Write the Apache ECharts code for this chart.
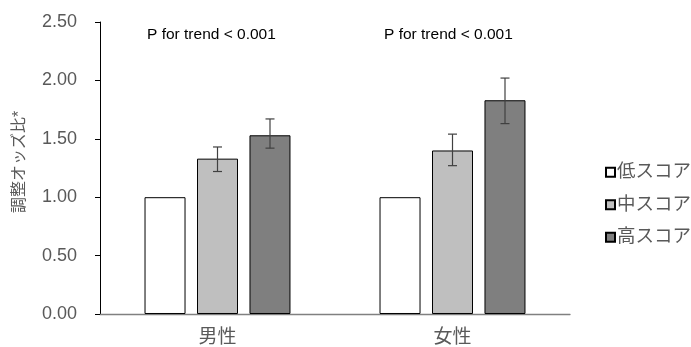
<!DOCTYPE html>
<html><head><meta charset="utf-8">
<script src="https://cdn.jsdelivr.net/npm/echarts@6/dist/echarts.min.js"></script>
<style>html,body{margin:0;padding:0;background:#fff}#c{width:691px;height:347px}</style>
</head><body><div id="c"></div>
<script>
const categories = ['男性', '女性'];
const seriesNames = ['低スコア', '中スコア', '高スコア'];
const lowScore = [1.00, 1.00];
const midScore = [1.33, 1.40];
const highScore = [1.53, 1.83];
const midLower = [1.22, 1.27];
const midUpper = [1.43, 1.54];
const highLower = [1.42, 1.63];
const highUpper = [1.67, 2.02];
const yTicks = [0, 0.5, 1, 1.5, 2, 2.5];
const pText = ['P for trend < 0.001', 'P for trend < 0.001'];

const colors = ['#ffffff', '#bfbfbf', '#7f7f7f'];
const chart = echarts.init(document.getElementById('c'));
const FONT = 'Liberation Sans, Arial, Noto Sans CJK JP, sans-serif';

function errSeries(lower, upper, offset) {
  return {
    type: 'custom',
    silent: true,
    z: 10,
    data: categories.map((c, i) => [i, lower[i], upper[i]]),
    renderItem: function (params, api) {
      const i = api.value(0);
      const lo = api.coord([i, api.value(1)]);
      const hi = api.coord([i, api.value(2)]);
      const x = lo[0] + offset;
      const w = 4.5;
      const st = { stroke: '#404040', lineWidth: 1.2 };
      return { type: 'group', children: [
        { type: 'line', shape: { x1: x, y1: lo[1], x2: x, y2: hi[1] }, style: st },
        { type: 'line', shape: { x1: x - w, y1: lo[1], x2: x + w, y2: lo[1] }, style: st },
        { type: 'line', shape: { x1: x - w, y1: hi[1], x2: x + w, y2: hi[1] }, style: st }
      ]};
    }
  };
}

const barData = [lowScore, midScore, highScore];
const series = barData.map((d, k) => ({
  name: seriesNames[k],
  type: 'bar',
  barWidth: 41,
  barGap: '28%',
  data: d,
  itemStyle: { color: colors[k], borderColor: '#000', borderWidth: 1 }
}));
series.push(errSeries(midLower, midUpper, 0));
series.push(errSeries(highLower, highUpper, 52.5));

chart.setOption({
  animation: false,
  textStyle: { fontFamily: FONT },
  grid: { left: 100, right: 121, top: 22, bottom: 33 },
  legend: {
    orient: 'vertical', left: 600, top: 158,
    itemWidth: 9, itemHeight: 9, itemGap: 14,
    icon: 'rect',
    textStyle: { fontSize: 18.5, color: '#595959', fontFamily: FONT, padding: [0, 0, 0, -3] },
    data: seriesNames
  },
  xAxis: {
    type: 'category', data: categories,
    axisLine: { lineStyle: { color: '#808080', width: 1.3 } },
    axisTick: { show: false },
    axisLabel: { fontSize: 19, color: '#595959', margin: 14 }
  },
  yAxis: {
    type: 'value', min: 0, max: 2.5, interval: 0.5,
    axisLine: { show: true, lineStyle: { color: '#000', width: 1 } },
    axisTick: { show: true, length: 5, lineStyle: { color: '#000' } },
    splitLine: { show: false },
    axisLabel: { fontSize: 18, color: '#595959', margin: 23, formatter: v => v.toFixed(2) },
    name: '調整オッズ比*', nameLocation: 'middle', nameGap: 72, nameRotate: 90,
    nameTextStyle: { fontSize: 16, color: '#595959', padding: [0, 0, 0, 12] }
  },
  series: series,
  graphic: pText.map((t, i) => ({
    type: 'text', left: i === 0 ? 147 : 384, top: 27,
    style: { text: t, fontSize: 15.5, fill: '#000', fontFamily: FONT }
  }))
});
</script></body></html>
